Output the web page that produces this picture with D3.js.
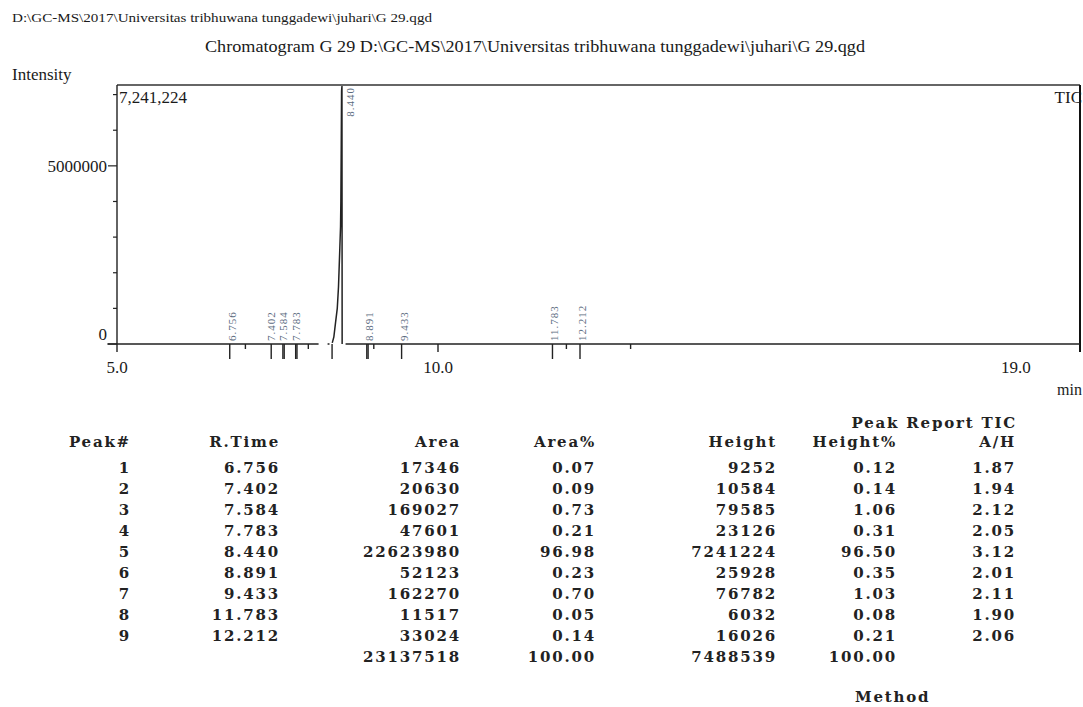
<!DOCTYPE html>
<html>
<head>
<meta charset="utf-8">
<script src="https://cdn.jsdelivr.net/npm/d3@7/dist/d3.min.js"></script>
<style>
  html, body { margin: 0; padding: 0; background: #fff; }
  svg { display: block; }
  .serif { font-family: "Liberation Serif", "Times New Roman", serif; fill: #1a1a1a; }
  .tbl { font-family: "DejaVu Serif", "Liberation Serif", serif; font-weight: bold; fill: #222; letter-spacing: 1.8px; }
  .plab { font-family: "Liberation Serif", serif; fill: #5a6a7e; letter-spacing: 1px; }
</style>
</head>
<body>
<svg id="chart" width="1083" height="707"></svg>
<script>
// ---------- data ----------
const fileHeader = "D:\\GC-MS\\2017\\Universitas tribhuwana tunggadewi\\juhari\\G 29.qgd";
const chartTitle = "Chromatogram G 29 D:\\GC-MS\\2017\\Universitas tribhuwana tunggadewi\\juhari\\G 29.qgd";
const maxIntensityLabel = "7,241,224";
const channel = "TIC";

// x axis (retention time, min)
const xDomain = [5.0, 20.0];
const xTickLabels = [5.0, 10.0, 19.0];
const xMajorTicks = [5.0, 10.0];
// y axis (intensity)
const yMax = 7241224;
const yLabelTicks = [0, 5000000];
const yMinorTicks = [1000000, 2000000, 3000000, 4000000, 6000000, 7000000];

// chromatogram trace (null = break)
const traceTime = [4.85, 8.14, null, 8.28, 8.31, null, 8.353, 8.378, 8.404, 8.431, 8.45, 8.471, 8.482, 8.487, 8.493, 8.498, 8.504, 8.507, null, 8.56, 20.0];
const traceIntensity = [0, 0, null, 0, 0, null, 30000, 200000, 600000, 1000000, 1600000, 2700000, 3300000, 4000000, 5600000, 7100000, 7241224, 0, null, 0, 0];

// peak table
const peakNo = [1, 2, 3, 4, 5, 6, 7, 8, 9];
const retTime = [6.756, 7.402, 7.584, 7.783, 8.440, 8.891, 9.433, 11.783, 12.212];
const area = [17346, 20630, 169027, 47601, 22623980, 52123, 162270, 11517, 33024];
const areaPct = [0.07, 0.09, 0.73, 0.21, 96.98, 0.23, 0.70, 0.05, 0.14];
const height = [9252, 10584, 79585, 23126, 7241224, 25928, 76782, 6032, 16026];
const heightPct = [0.12, 0.14, 1.06, 0.31, 96.50, 0.35, 1.03, 0.08, 0.21];
const aOverH = [1.87, 1.94, 2.12, 2.05, 3.12, 2.01, 2.11, 1.90, 2.06];
const totalArea = 23137518, totalAreaPct = 100.00, totalHeight = 7488539, totalHeightPct = 100.00;

// markers under the baseline
const apexMarkTimes = [6.756, 7.402, 7.584, 7.783, 8.35, 8.891, 9.433, 11.783, 12.212];
const doubledMarkTimes = [7.584, 7.783, 8.891];
const boundaryMarkTimes = [7.0, 7.98, 9.0, 12.0, 13.0];
// peak label positions (retention time where label is printed)
const labelTimes = [6.756, 7.36, 7.56, 7.76, 8.60, 8.891, 9.433, 11.783, 12.212];

// ---------- drawing ----------
const svg = d3.select("#chart");
const plotL = 117, plotR = 1080, plotT = 85, plotB = 344;

const x = d3.scaleLinear().domain(xDomain).range([plotL, plotR]);
const y = d3.scaleLinear().domain([0, yMax]).range([plotB, plotT + 1]);

// headers
svg.append("text").attr("class", "serif").attr("x", 12).attr("y", 22)
  .attr("font-size", 13).attr("textLength", 420).attr("lengthAdjust", "spacingAndGlyphs").text(fileHeader);
svg.append("text").attr("class", "serif").attr("x", 205).attr("y", 52)
  .attr("font-size", 17).attr("textLength", 660).attr("lengthAdjust", "spacingAndGlyphs").text(chartTitle);
svg.append("text").attr("class", "serif").attr("x", 12).attr("y", 80)
  .attr("font-size", 17).text("Intensity");

// frame
svg.append("line").attr("x1", plotL).attr("x2", plotR).attr("y1", plotT).attr("y2", plotT)
  .attr("stroke", "#333").attr("stroke-width", 1.6);
svg.append("line").attr("x1", plotR).attr("x2", plotR).attr("y1", plotT).attr("y2", plotB + 8)
  .attr("stroke", "#111").attr("stroke-width", 2);
svg.append("line").attr("x1", plotL).attr("x2", plotL).attr("y1", plotT).attr("y2", plotB)
  .attr("stroke", "#222").attr("stroke-width", 1.4);

// y axis ticks
svg.selectAll(".ymin").data(yMinorTicks).join("line")
  .attr("x1", plotL - 4).attr("x2", plotL).attr("y1", d => y(d)).attr("y2", d => y(d))
  .attr("stroke", "#222").attr("stroke-width", 1.2);
svg.selectAll(".ymaj").data(yLabelTicks).join("line")
  .attr("x1", plotL - 9).attr("x2", plotL).attr("y1", d => y(d)).attr("y2", d => y(d))
  .attr("stroke", "#222").attr("stroke-width", 1.2);
svg.selectAll(".ylab").data(yLabelTicks).join("text").attr("class", "serif")
  .attr("x", 107).attr("y", d => d === 0 ? y(d) - 4 : y(d) + 6)
  .attr("text-anchor", "end").attr("font-size", 17).text(d => d3.format("d")(d));

// max label & channel
svg.append("text").attr("class", "serif").attr("x", 119).attr("y", 103).attr("font-size", 17).text(maxIntensityLabel);
svg.append("text").attr("class", "serif").attr("x", 1082).attr("y", 103).attr("text-anchor", "end").attr("font-size", 17).text(channel);

// trace
const trace = traceTime.map((t, i) => [t, traceIntensity[i]]);
svg.append("path").datum(trace)
  .attr("d", d3.line().defined(d => d[0] !== null && d[1] !== null).x(d => x(d[0])).y(d => y(d[1])))
  .attr("fill", "none").attr("stroke", "#222").attr("stroke-width", 1.5);

// x axis ticks
svg.selectAll(".xmaj").data(xMajorTicks).join("line")
  .attr("x1", d => x(d)).attr("x2", d => x(d)).attr("y1", plotB).attr("y2", plotB + 8)
  .attr("stroke", "#222").attr("stroke-width", 1.4);
svg.selectAll(".xlab").data(xTickLabels).join("text").attr("class", "serif")
  .attr("x", d => x(d)).attr("y", 373).attr("text-anchor", "middle").attr("font-size", 17)
  .text(d => d3.format(".1f")(d));
svg.append("text").attr("class", "serif").attr("x", 1082).attr("y", 395).attr("text-anchor", "end").attr("font-size", 16).text("min");

// peak markers
svg.selectAll(".apex").data(apexMarkTimes).join("line")
  .attr("x1", d => x(d)).attr("x2", d => x(d)).attr("y1", plotB).attr("y2", plotB + 15)
  .attr("stroke", "#222").attr("stroke-width", 1.4);
svg.selectAll(".apex2").data(doubledMarkTimes).join("line")
  .attr("x1", d => x(d) + 1.3).attr("x2", d => x(d) + 1.3).attr("y1", plotB).attr("y2", plotB + 15)
  .attr("stroke", "#222").attr("stroke-width", 1.4);
svg.selectAll(".bnd").data(boundaryMarkTimes).join("line")
  .attr("x1", d => x(d)).attr("x2", d => x(d)).attr("y1", plotB).attr("y2", plotB + 5)
  .attr("stroke", "#222").attr("stroke-width", 1.4);

// peak labels (rotated)
svg.selectAll(".plab").data(retTime).join("text").attr("class", "plab")
  .attr("font-size", 11)
  .attr("transform", (d, i) => {
    const lx = x(labelTimes[i]) + 6;
    const ly = d === 8.440 ? plotT + 2 : plotB - 3;
    return `translate(${lx},${ly}) rotate(-90)`;
  })
  .attr("text-anchor", d => d === 8.440 ? "end" : "start")
  .text(d => d3.format(".3f")(d));

// ---------- peak table ----------
const colRight = [131, 280, 461, 596, 777, 897, 1016];
const headers = ["Peak#", "R.Time", "Area", "Area%", "Height", "Height%", "A/H"];
const tbl = svg.append("g");
tbl.append("text").attr("class", "tbl").attr("x", 1017).attr("y", 428).attr("text-anchor", "end")
  .attr("font-size", 15).text("Peak Report TIC");
tbl.selectAll(".hdr").data(headers).join("text").attr("class", "tbl")
  .attr("x", (d, i) => colRight[i]).attr("y", 447).attr("text-anchor", "end").attr("font-size", 15).text(d => d);

const rows = peakNo.map((p, i) => [
  String(p), d3.format(".3f")(retTime[i]), String(area[i]), d3.format(".2f")(areaPct[i]),
  String(height[i]), d3.format(".2f")(heightPct[i]), d3.format(".2f")(aOverH[i])
]);
rows.push(["", "", String(totalArea), d3.format(".2f")(totalAreaPct), String(totalHeight), d3.format(".2f")(totalHeightPct), ""]);

const rowY = d3.scaleLinear().domain([0, 9]).range([473, 662]);
rows.forEach((r, ri) => {
  tbl.selectAll(null).data(r).join("text").attr("class", "tbl")
    .attr("x", (d, i) => colRight[i]).attr("y", rowY(ri)).attr("text-anchor", "end")
    .attr("font-size", 15).text(d => d);
});
tbl.append("text").attr("class", "tbl").attr("x", 855).attr("y", 702).attr("font-size", 15).text("Method");
</script>
</body>
</html>
